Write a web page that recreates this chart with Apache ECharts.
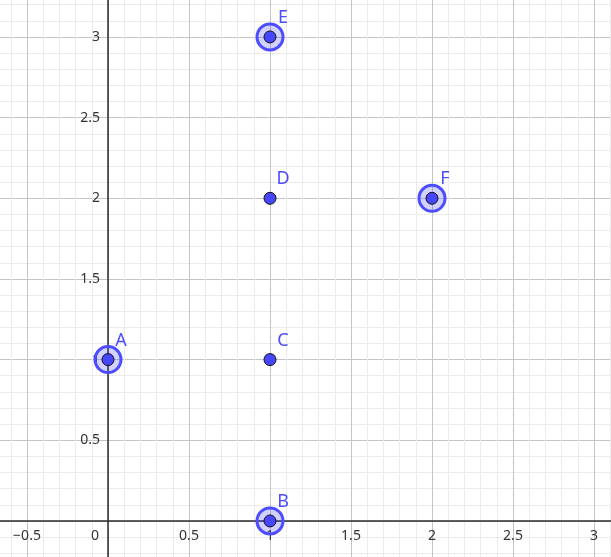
<!DOCTYPE html>
<html><head><meta charset="utf-8">
<script src="https://cdn.jsdelivr.net/npm/echarts@6/dist/echarts.min.js"></script>
<style>html,body{margin:0;padding:0;background:#fff}#c{width:611px;height:557px}</style>
</head><body><div id="c"></div>
<script>
const pointNames = ['A','B','C','D','E','F'];
const pointX = [0, 1, 1, 1, 1, 2];
const pointY = [1, 0, 1, 2, 3, 2];
const highlighted = [true, true, false, false, true, true];

const xMin = -1, xMax = 3.5, yMin = -0.5, yMax = 3.5, step = 0.5;

const pts = pointNames.map((n, i) => ({ name: n, value: [pointX[i], pointY[i]] }));
const rings = pts.filter((p, i) => highlighted[i]);

const fmt = v => String(Math.round(v * 10) / 10).replace('-', '\u2212');

const FONT = 'Noto Sans';
const GL = -54, GT = -43.7, GW = 729, GH = 645.3;
const pxPerY = GH / (yMax - yMin);
const pxPerX = GW / (xMax - xMin);
const originX = GL + (0 - xMin) * pxPerX;
const originY = GT + (yMax - 0) * pxPerY;

const hidden = { show: false };
const chart = echarts.init(document.getElementById('c'));
chart.setOption({
  backgroundColor: '#ffffff',
  animation: false,
  grid: [
    { left: GL, top: GT, width: GW, height: GH, containLabel: false, outerBoundsMode: 'none' },
    { left: GL, top: GT, width: GW, height: originY - GT, containLabel: false, outerBoundsMode: 'none' },
    { left: originX, top: GT, width: GL + GW - originX, height: GH, containLabel: false, outerBoundsMode: 'none' }
  ],
  xAxis: [
    {
      gridIndex: 0, type: 'value', min: xMin, max: xMax, interval: step,
      axisLine: hidden, axisTick: hidden, axisLabel: hidden,
      splitLine: { show: true, lineStyle: { color: '#c4c4c4', width: 1 } },
      minorTick: { show: false, splitNumber: 5 },
      minorSplitLine: { show: true, lineStyle: { color: '#ebebeb', width: 1 } }
    },
    {
      gridIndex: 1, type: 'value', min: xMin, max: xMax, interval: step, position: 'bottom',
      axisLine: { show: true, onZero: false, lineStyle: { color: '#2b2b2b', width: 1.5 } },
      axisTick: hidden, splitLine: hidden,
      axisLabel: {
        margin: 8, color: '#333', fontSize: 14, fontFamily: FONT,
        formatter: v => (Math.abs(v) < 1e-9 ? '{z|0}' : fmt(v)),
        rich: { z: { padding: [0, 26, 0, 0], color: '#333', fontSize: 14, fontFamily: FONT } }
      }
    },
    { gridIndex: 2, type: 'value', min: 0, max: xMax, show: false }
  ],
  yAxis: [
    {
      gridIndex: 0, type: 'value', min: yMin, max: yMax, interval: step,
      axisLine: hidden, axisTick: hidden, axisLabel: hidden,
      splitLine: { show: true, lineStyle: { color: '#c4c4c4', width: 1 } },
      minorTick: { show: false, splitNumber: 5 },
      minorSplitLine: { show: true, lineStyle: { color: '#ebebeb', width: 1 } }
    },
    { gridIndex: 1, type: 'value', min: 0, max: yMax, show: false },
    {
      gridIndex: 2, type: 'value', min: yMin, max: yMax, interval: step, position: 'left',
      axisLine: { show: true, onZero: false, lineStyle: { color: '#2b2b2b', width: 1.5 } },
      axisTick: hidden, splitLine: hidden,
      axisLabel: {
        margin: 8, color: '#333', fontSize: 14, fontFamily: FONT,
        formatter: v => (Math.abs(v) < 1e-9 ? '' : fmt(v))
      }
    }
  ],
  series: [
    {
      type: 'scatter', xAxisIndex: 0, yAxisIndex: 0, data: rings, symbol: 'circle', symbolSize: 26, z: 3,
      itemStyle: { color: 'rgba(77,77,255,0.25)', borderColor: '#4d4dff', borderWidth: 3, opacity: 1 },
      emphasis: { disabled: true }, silent: true
    },
    {
      type: 'scatter', xAxisIndex: 0, yAxisIndex: 0, data: pts, symbol: 'circle', symbolSize: 12, z: 4,
      itemStyle: { color: '#4646ff', borderColor: '#111', borderWidth: 1, opacity: 1 },
      label: {
        show: true, position: 'inside', offset: [13, -19],
        formatter: p => p.name, color: '#4d4dff', fontSize: 18, fontFamily: FONT
      },
      emphasis: { disabled: true }, silent: true
    }
  ]
});
</script></body></html>
